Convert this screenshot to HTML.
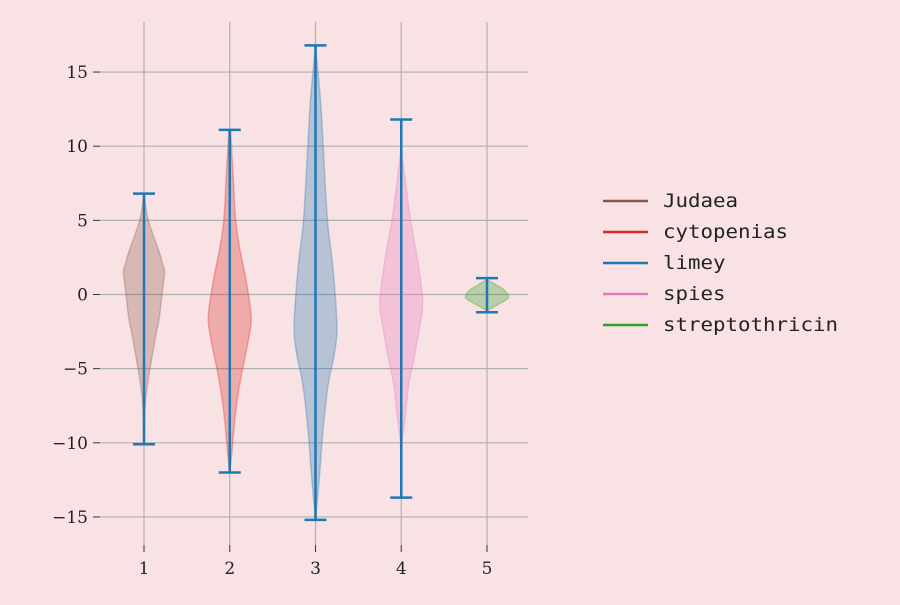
<!DOCTYPE html>
<html><head><meta charset="utf-8"><style>
body{margin:0;background:#f9e2e3}
svg text{font-family:"DejaVu Serif","Liberation Serif",serif;font-size:17px;fill:#222}
.lg text{font-family:"DejaVu Sans Mono","Liberation Mono",monospace;font-size:19px}
</style></head><body>
<svg id="c" width="900" height="600" xmlns="http://www.w3.org/2000/svg">
<rect width="900" height="600" fill="#f9e2e3"/>
<g id="grid"></g><g id="violins"></g><g id="ticks"></g><g id="legend" class="lg"></g>
</svg>
<script>
const categories=["Judaea","cytopenias","limey","spies","streptothricin"];
const colors=["#8c564b","#d62728","#1f77b4","#e377c2","#2ca02c"];
const positions=[1,2,3,4,5];
const mins=[-10.1,-12,-15.2,-13.7,-1.2];
const maxs=[6.8,11.1,16.8,11.8,1.1];
const profY1=[6.8,5,3,2,1.5,0,-1.5,-3,-5,-6.5,-8,-10.1];
const profW1=[0,0.05,0.17,0.22,0.24,0.21,0.18,0.13,0.07,0.03,0.01,0];
const profY2=[11.1,8,5,3,1,-1.5,-3,-5,-7,-9,-11,-12];
const profW2=[0.01,0.04,0.07,0.12,0.19,0.25,0.22,0.15,0.09,0.05,0.02,0];
const profY3=[16.8,13,10,5,2,-2,-4,-6,-9,-12,-14,-15.2];
const profW3=[0,0.06,0.09,0.14,0.2,0.25,0.22,0.15,0.09,0.05,0.02,0];
const profY4=[10,8,5,2,-0.5,-2,-4,-6,-8,-10,-11];
const profW4=[0,0.04,0.11,0.2,0.25,0.22,0.16,0.09,0.05,0.01,0];
const profY5=[1.0,0.9,0.3,-0.2,-0.6,-1.0,-1.1];
const profW5=[0,0.03,0.2,0.25,0.15,0.03,0];
const yTicks=[-15,-10,-5,0,5,10,15];
const xTicks=[1,2,3,4,5];
const profiles=[[profY1,profW1],[profY2,profW2],[profY3,profW3],[profY4,profW4],[profY5,profW5]];
const X=v=>144+(v-1)*85.75, Y=v=>294.5-v*14.83;
const NS="http://www.w3.org/2000/svg";
function mk(p,t,a){const e=document.createElementNS(NS,t);for(const k in a)e.setAttribute(k,a[k]);p.appendChild(e);return e;}
function smooth(pts){
 let d='M'+pts[0][0]+','+pts[0][1];
 for(let i=0;i<pts.length-1;i++){
  const p0=pts[Math.max(0,i-1)],p1=pts[i],p2=pts[i+1],p3=pts[Math.min(pts.length-1,i+2)];
  const c1=[p1[0]+(p2[0]-p0[0])/6,p1[1]+(p2[1]-p0[1])/6],c2=[p2[0]-(p3[0]-p1[0])/6,p2[1]-(p3[1]-p1[1])/6];
  d+='C'+c1+' '+c2+' '+p2;
 }
 return d;
}
const grid=document.getElementById('grid'),tk=document.getElementById('ticks');
yTicks.forEach(v=>{
 const l=mk(grid,'line',{x1:100,x2:528,y1:Y(v),y2:Y(v),stroke:'#b0b0b0','stroke-width':1.2});
 
 
 mk(tk,'line',{x1:93,x2:100,y1:Y(v),y2:Y(v),stroke:'#333'});
 const t=mk(tk,'text',{x:88,y:Y(v)+6,'text-anchor':'end'});t.textContent=(v<0?'\u2212':'')+Math.abs(v);
 
 
});
xTicks.forEach(v=>{
 const l=mk(grid,'line',{x1:X(v),x2:X(v),y1:22,y2:545,stroke:'#b0b0b0','stroke-width':1.2});
 
 
 mk(tk,'line',{x1:X(v),x2:X(v),y1:545,y2:552,stroke:'#333'});
 const t=mk(tk,'text',{x:X(v),y:574,'text-anchor':'middle'});t.textContent=v;
 
 
});
const vg=document.getElementById('violins');
categories.forEach((c,i)=>{
 const [py,pw]=profiles[i],cx=positions[i];
 const right=py.map((y,j)=>[X(cx)+pw[j]*85.75,Y(y)]);
 const left=py.map((y,j)=>[X(cx)-pw[j]*85.75,Y(y)]).reverse();
 const d=smooth(right)+smooth(left).replace('M','L')+'Z';
 const p=mk(vg,'path',{d:d,fill:colors[i],'fill-opacity':0.3,stroke:colors[i],'stroke-opacity':0.3,'stroke-width':1.5});
 
 
 const g=mk(vg,'g',{stroke:'#1f77b4','stroke-width':2.5});
 
 
 mk(g,'line',{x1:X(cx),x2:X(cx),y1:Y(maxs[i]),y2:Y(mins[i])});
 mk(g,'line',{x1:X(cx)-11,x2:X(cx)+11,y1:Y(maxs[i]),y2:Y(maxs[i])});
 mk(g,'line',{x1:X(cx)-11,x2:X(cx)+11,y1:Y(mins[i]),y2:Y(mins[i])});
});
const lg=document.getElementById('legend');
categories.forEach((c,i)=>{
 const y=201+i*31;
 const g=mk(lg,'g',{});
 
 
 mk(g,'line',{x1:603,x2:648,y1:y,y2:y,stroke:colors[i],'stroke-width':2.5});
 const t=mk(g,'text',{x:663,y:y+6,textLength:c.length*12.5,lengthAdjust:'spacingAndGlyphs'});t.textContent=c;
});
</script>
</body></html>
